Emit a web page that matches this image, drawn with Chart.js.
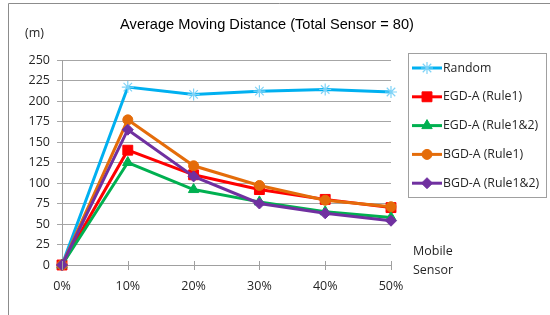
<!DOCTYPE html>
<html><head><meta charset="utf-8">
<script src="https://cdn.jsdelivr.net/npm/chart.js@4"></script>
<style>html,body{margin:0;padding:0;background:#fff;}canvas{display:block;}</style>
</head><body>
<canvas id="c" width="550" height="315"></canvas>
<script>
const categories = ["0%", "10%", "20%", "30%", "40%", "50%"];
const seriesNames = ["Random", "EGD-A (Rule1)", "EGD-A (Rule1&2)", "BGD-A (Rule1)", "BGD-A (Rule1&2)"];
const random = [0, 217, 208, 212, 214, 211];
const egdRule1 = [0, 140, 110, 92, 80, 70];
const egdRule12 = [0, 125, 92, 77, 65, 58];
const bgdRule1 = [0, 177, 121, 97, 79, 71];
const bgdRule12 = [0, 165, 108, 75, 63, 54];
const yTicks = [0, 25, 50, 75, 100, 125, 150, 175, 200, 225, 250];
const titleText = "Average Moving Distance (Total Sensor = 80)";
const yUnit = "(m)";
const xUnit = ["Mobile", "Sensor"];

const FONT = "'Open Sans', sans-serif";
const styles = [
  {line:"#00b0f0", point:"#7fd3f7", style:"star", r:6},
  {line:"#ff0000", point:"#ff0000", style:"rect", r:7},
  {line:"#00b050", point:"#00b050", style:"triangle", r:6},
  {line:"#e46c0a", point:"#e46c0a", style:"circle", r:5},
  {line:"#7030a0", point:"#7030a0", style:"rectRot", r:5.5}
];
const values = [random, egdRule1, egdRule12, bgdRule1, bgdRule12];

const datasets = values.map((v, i) => ({
  label: seriesNames[i],
  data: v,
  borderColor: styles[i].line,
  backgroundColor: styles[i].point,
  pointBorderColor: styles[i].point,
  pointBackgroundColor: styles[i].point,
  pointStyle: styles[i].style,
  pointRadius: styles[i].r,
  pointBorderWidth: i === 0 ? 1.2 : 1,
  borderWidth: 3,
  tension: 0,
  clip: false,
  order: 4 - i
}));

const decor = {
  id: 'decor',
  afterDraw(chart) {
    const ctx = chart.ctx;
    const x = chart.scales.x, y = chart.scales.y;
    ctx.save();
    ctx.strokeStyle = "#8c8c8c";
    ctx.lineWidth = 1;
    ctx.beginPath();
    ctx.moveTo(8.5, 315); ctx.lineTo(8.5, 3.5); ctx.lineTo(550, 3.5);
    ctx.stroke();
    ctx.strokeStyle = "#a0a0a0";
    ctx.beginPath();
    for (let i = 0; i < categories.length; i++) {
      const px = Math.round(x.getPixelForTick(i)) + 0.5;
      ctx.moveTo(px, y.bottom - 4); ctx.lineTo(px, y.bottom + 5);
    }
    ctx.stroke();
    ctx.fillStyle = "#000";
    ctx.font = "14.6px 'Liberation Sans', Arial, sans-serif";
    ctx.textAlign = "center"; ctx.textBaseline = "middle";
    ctx.fillText(titleText, 267, 25);
    ctx.font = "12.5px " + FONT;
    ctx.textAlign = "left";
    ctx.fillStyle = "#262626";
    ctx.fillText(yUnit, 25, 33);
    ctx.fillText(xUnit[0], 413, 251);
    ctx.fillText(xUnit[1], 413, 270);
    ctx.strokeStyle = "#a0a0a0";
    ctx.strokeRect(408.5, 53.5, 138, 144);
    chart.data.datasets.forEach((ds, i) => {
      const cy = 68 + i * 28.8;
      ctx.strokeStyle = ds.borderColor;
      ctx.lineWidth = 3;
      ctx.beginPath(); ctx.moveTo(412, cy); ctx.lineTo(442, cy); ctx.stroke();
      ctx.lineWidth = ds.pointBorderWidth;
      ctx.strokeStyle = ds.pointBorderColor;
      ctx.fillStyle = ds.pointBackgroundColor;
      Chart.helpers.drawPoint(ctx, {pointStyle: ds.pointStyle, radius: ds.pointRadius, borderWidth: ds.pointBorderWidth, rotation: 0}, 427, cy);
      ctx.fillStyle = "#262626";
      ctx.font = "12.3px " + FONT;
      ctx.textAlign = "left"; ctx.textBaseline = "middle";
      ctx.fillText(ds.label, 443, cy);
    });
    ctx.restore();
  }
};

new Chart(document.getElementById('c'), {
  type: 'line',
  data: { labels: categories, datasets },
  options: {
    responsive: false,
    animation: false,
    devicePixelRatio: 1,
    layout: { padding: { top: 60, right: 159, left: 0, bottom: 0 } },
    plugins: { legend: { display: false }, title: { display: false }, tooltip: { enabled: false } },
    scales: {
      x: {
        offset: false,
        grid: { display: false, drawTicks: false },
        border: { display: true, color: "#a0a0a0", width: 1 },
        ticks: { color: "#262626", font: { family: FONT, size: 12.5 }, padding: 14, maxRotation: 0 },
        afterFit(s) { s.height = 50; }
      },
      y: {
        min: 0, max: 250,
        afterBuildTicks(s) { s.ticks = yTicks.map(v => ({ value: v })); },
        grid: { color: "#a6a6a6", tickLength: 5, drawTicks: true },
        border: { display: true, color: "#a0a0a0", width: 1 },
        ticks: { color: "#262626", font: { family: FONT, size: 12.5 }, padding: 7 },
        afterFit(s) { s.width = 62; }
      }
    }
  },
  plugins: [decor]
});
</script>
</body></html>
